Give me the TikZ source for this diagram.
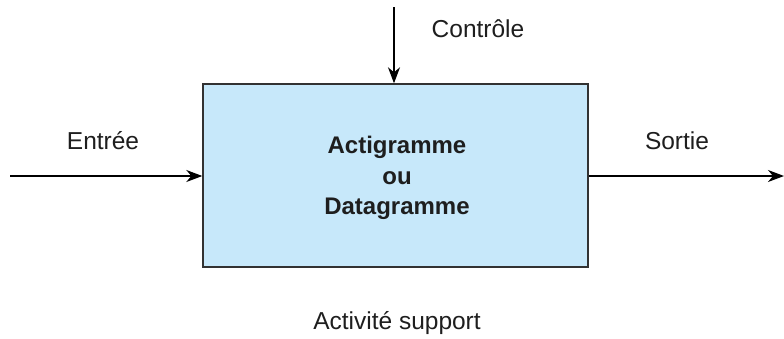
\documentclass[tikz,border=0pt]{standalone}
\usepackage{fontspec}
\setmainfont{Liberation Sans}
\usetikzlibrary{arrows.meta}
\definecolor{boxfill}{RGB}{199,232,250}
\definecolor{boxline}{RGB}{50,50,50}
\definecolor{txt}{RGB}{30,30,30}
\begin{document}
\begin{tikzpicture}[x=1pt,y=-1pt,
  lbl/.style={text=txt,font=\fontsize{24.5}{28}\selectfont,inner sep=0pt},
  flow/.style={line width=1.2pt,-{Stealth[length=16pt,width=12pt,inset=5pt]}},
  actbox/.style={draw=boxline,line width=1.4pt,fill=boxfill,minimum width=385pt,minimum height=183pt,inner sep=0pt},
  acttext/.style={align=center,font=\bfseries\fontsize{24}{30.5}\selectfont,text=txt,inner sep=0pt}]
\useasboundingbox (0,0) rectangle (784,338);
\node[actbox] (box) at (395.5,175.5) {};
\node[acttext] (boxtxt) at (397,178) {Actigramme\\ou\\Datagramme};
\coordinate (inL) at (10,176);
\coordinate (outR) at (784,176);
\coordinate (ctrlT) at (394,7);
\draw[flow] (inL) -- (inL -| box.west);
\draw[flow] (outR -| box.east) -- (outR);
\draw[flow] (ctrlT) -- (ctrlT |- box.north);
\node[lbl] (ctrl) at (478,29) {Contrôle};
\node[lbl] (entree) at (103,141) {Entrée};
\node[lbl] (sortie) at (677,141) {Sortie};
\node[lbl] (support) at (397,323) {Activité support};
\end{tikzpicture}
\end{document}
